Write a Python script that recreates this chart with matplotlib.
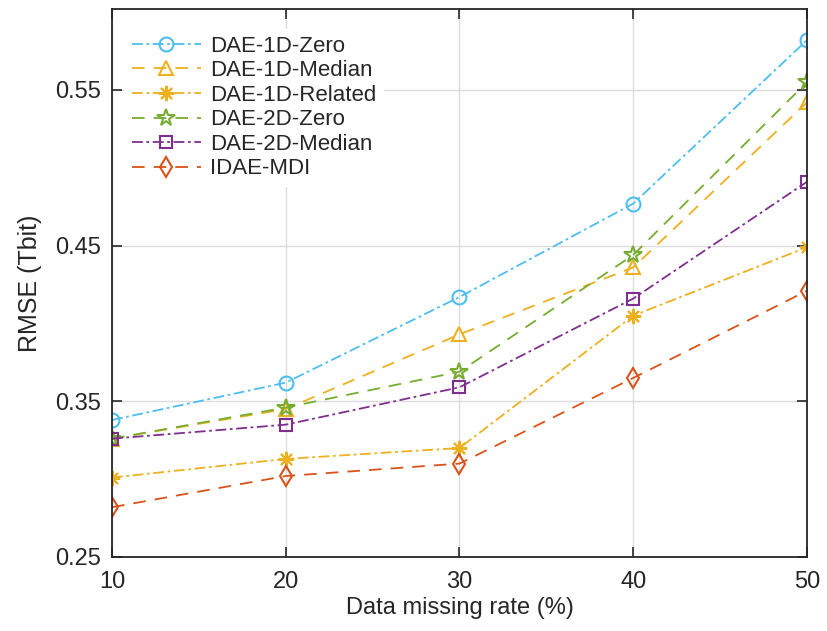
import matplotlib
matplotlib.use("Agg")
import matplotlib.pyplot as plt

plt.rcParams['font.family'] = ['Liberation Sans', 'DejaVu Sans']

missing_rate = [10, 20, 30, 40, 50]
series_names = ["DAE-1D-Zero", "DAE-1D-Median", "DAE-1D-Related",
                "DAE-2D-Zero", "DAE-2D-Median", "IDAE-MDI"]
dae_1d_zero = [0.338, 0.362, 0.417, 0.477, 0.582]
dae_1d_median = [0.326, 0.345, 0.393, 0.436, 0.542]
dae_1d_related = [0.301, 0.313, 0.320, 0.405, 0.449]
dae_2d_zero = [0.326, 0.346, 0.369, 0.444, 0.555]
dae_2d_median = [0.326, 0.335, 0.359, 0.416, 0.491]
idae_mdi = [0.282, 0.302, 0.310, 0.365, 0.421]
y_ticks = [0.25, 0.35, 0.45, 0.55]
y_tick_labels = ["0.25", "0.35", "0.45", "0.55"]

values = [dae_1d_zero, dae_1d_median, dae_1d_related, dae_2d_zero, dae_2d_median, idae_mdi]
colors = ["#4DBEEE", "#EDB120", "#EDB120", "#77AC30", "#7E2F8E", "#D95319"]
styles = [(0, (6, 2, 1.5, 2)), (0, (7, 5)), (0, (6, 2, 1.5, 2)), (0, (7, 5)),
          (0, (6, 2, 1.5, 2)), (0, (7, 5))]
markers = ["o", "^", (8, 2, 0), "*", "s", "d"]
msizes = [10, 10, 11, 13, 9, 10]

fig = plt.figure(figsize=(8.27, 6.31), dpi=100)
ax = fig.add_axes([0.1354, 0.1173, 0.8404, 0.8684])

for name, vals, c, ls, m, ms in zip(series_names, values, colors, styles, markers, msizes):
    ax.plot(missing_rate, vals, color=c, linestyle=ls, linewidth=1.3,
            marker=m, markersize=ms, markerfacecolor='none',
            markeredgecolor=c, markeredgewidth=1.5, label=name)

ax.set_xlim(10, 50)
ax.set_ylim(0.25, 0.602)
ax.set_xticks(missing_rate)
ax.set_yticks(y_ticks)
ax.set_yticklabels(y_tick_labels)
ax.grid(True, color='#DCDCDC', linewidth=1.0)
ax.set_axisbelow(True)
for s in ax.spines.values():
    s.set_color('#262626')
    s.set_linewidth(1.3)
ax.tick_params(direction='in', length=7, width=1.2, colors='#262626',
               labelsize=17, top=True, right=True)
ax.tick_params(axis='x', pad=10)
ax.tick_params(axis='y', pad=8)
ax.set_xlabel("Data missing rate (%)", fontsize=17, color='#262626', labelpad=3)
ax.set_ylabel("RMSE (Tbit)", fontsize=18, color='#262626', labelpad=9)

leg = ax.legend(loc='upper left', bbox_to_anchor=(0.019, 0.9635), fontsize=16,
                frameon=True, framealpha=1, edgecolor='white', fancybox=False,
                labelspacing=0.16, handlelength=3.1, handletextpad=0.4,
                borderpad=0.3, borderaxespad=0.0)
for t in leg.get_texts():
    t.set_color('#262626')

fig.savefig("out.png", dpi=100)
